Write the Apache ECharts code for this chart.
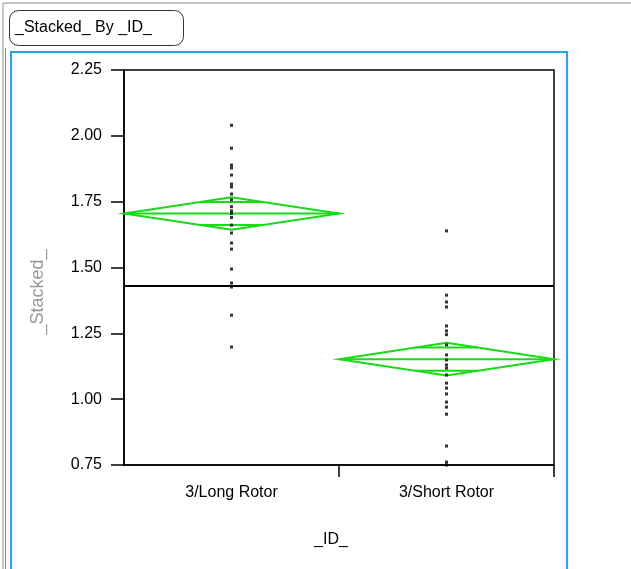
<!DOCTYPE html>
<html><head><meta charset="utf-8">
<script src="https://cdn.jsdelivr.net/npm/echarts@6/dist/echarts.min.js"></script>
<style>html,body{margin:0;padding:0;background:#fff}#c{width:631px;height:569px}</style>
</head><body><div id="c"></div>
<script>
const categories = ['3/Long Rotor', '3/Short Rotor'];
const longRotor = [2.04, 1.953, 1.889, 1.878, 1.851, 1.817, 1.806, 1.779, 1.757, 1.731, 1.715, 1.705, 1.69, 1.661, 1.631, 1.593, 1.57, 1.494, 1.441, 1.426, 1.319, 1.198];
const shortRotor = [1.639, 1.395, 1.369, 1.35, 1.278, 1.259, 1.245, 1.206, 1.168, 1.149, 1.13, 1.118, 1.092, 1.061, 1.042, 1.02, 0.989, 0.97, 0.943, 0.822, 0.761, 0.75];
const groupMeans = [1.705, 1.152];
const ciHalf = [0.062, 0.062];
const grandMean = 1.426;
const yMin = 0.75, yMax = 2.25, yStep = 0.25;

const FONT = '"Liberation Sans", Arial, sans-serif';
const GREEN = '#16dc16';

const pts = [];
longRotor.forEach(v => pts.push([0, v]));
shortRotor.forEach(v => pts.push([1, v]));
const diamonds = groupMeans.map((m, i) => [i, m, ciHalf[i]]);

const chart = echarts.init(document.getElementById('c'), null, {renderer: 'canvas'});
chart.setOption({
  animation: false,
  backgroundColor: '#fff',
  grid: {left: 124, top: 70, right: 77, bottom: 104, show: true, borderColor: '#000', borderWidth: 1.5, backgroundColor: 'transparent'},
  xAxis: {
    type: 'category', data: categories, boundaryGap: true,
    axisLine: {lineStyle: {color: '#000', width: 1.5}},
    axisTick: {show: false},
    axisLabel: {color: '#000', fontSize: 16, fontFamily: FONT, margin: 20},
    splitLine: {show: false}
  },
  yAxis: {
    type: 'value', min: yMin, max: yMax, interval: yStep,
    axisLine: {show: true, lineStyle: {color: '#000', width: 1.5}},
    axisTick: {show: true, length: 13, lineStyle: {color: '#000', width: 1.5}},
    axisLabel: {color: '#000', fontSize: 16, fontFamily: FONT, margin: 22, formatter: v => v.toFixed(2)},
    splitLine: {show: false}
  },
  graphic: [
    {type: 'line', shape: {x1: 3, y1: 3, x2: 631, y2: 3}, style: {stroke: '#8a8a8a', lineWidth: 1}},
    {type: 'line', shape: {x1: 3, y1: 3, x2: 3, y2: 569}, style: {stroke: '#8a8a8a', lineWidth: 1}},
    {type: 'line', shape: {x1: 5.5, y1: 48, x2: 5.5, y2: 569}, style: {stroke: '#8a8a8a', lineWidth: 1}},
    {type: 'rect', shape: {x: 9.5, y: 10.5, width: 174, height: 35, r: 9}, style: {fill: '#fff', stroke: '#333', lineWidth: 1}},
    {type: 'text', x: 15, y: 28, style: {text: '_Stacked_ By _ID_', font: '16px ' + FONT, fill: '#000', verticalAlign: 'middle'}},
    {type: 'rect', shape: {x: 11, y: 52, width: 556, height: 530}, style: {fill: 'none', stroke: '#22a6e6', lineWidth: 2}},
    {type: 'text', x: 38, y: 292, rotation: Math.PI / 2, style: {text: '_Stacked_', font: '18px ' + FONT, fill: '#999', align: 'center', verticalAlign: 'middle'}},
    {type: 'text', x: 331, y: 540, style: {text: '_ID_', font: '16px ' + FONT, fill: '#000', align: 'center', verticalAlign: 'middle'}}
  ],
  series: [
    {
      type: 'custom',
      data: diamonds,
      z: 3,
      renderItem: function (params, api) {
        const idx = api.value(0), m = api.value(1), ci = api.value(2);
        const c = api.coord([idx, m]);
        const w = api.size([1, 0])[0];
        const half = w / 2;
        const top = api.coord([idx, m + ci])[1];
        const bot = api.coord([idx, m - ci])[1];
        const ov = ci / Math.SQRT2;
        const oTop = api.coord([idx, m + ov])[1];
        const oBot = api.coord([idx, m - ov])[1];
        const oHalf = half * (1 - 1 / Math.SQRT2);
        const axisY = api.coord([idx, yMin])[1];
        const st = {stroke: GREEN, lineWidth: 2, fill: 'none'};
        return {
          type: 'group',
          children: [
            {type: 'polygon', shape: {points: [[c[0] - half, c[1]], [c[0], top], [c[0] + half, c[1]], [c[0], bot]]}, style: st},
            {type: 'line', shape: {x1: c[0] - half, y1: c[1], x2: c[0] + half, y2: c[1]}, style: st},
            {type: 'line', shape: {x1: c[0] - oHalf, y1: oTop, x2: c[0] + oHalf, y2: oTop}, style: st},
            {type: 'line', shape: {x1: c[0] - oHalf, y1: oBot, x2: c[0] + oHalf, y2: oBot}, style: st},
            {type: 'line', shape: {x1: c[0] + half, y1: axisY, x2: c[0] + half, y2: axisY + 12}, style: {stroke: '#000', lineWidth: 1.5}}
          ]
        };
      }
    },
    {
      type: 'scatter',
      data: pts,
      symbol: 'rect',
      symbolSize: 3,
      itemStyle: {color: '#000'},
      z: 4,
      markLine: {
        silent: true, symbol: 'none',
        label: {show: false},
        lineStyle: {color: '#000', width: 2, type: 'solid'},
        data: [{yAxis: grandMean}]
      }
    }
  ]
});
</script></body></html>
